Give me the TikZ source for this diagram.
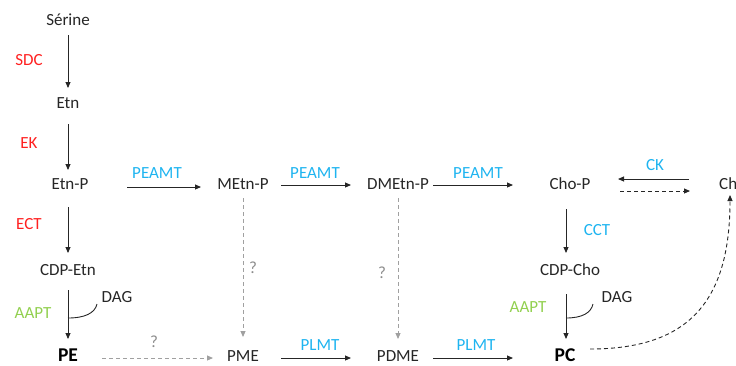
\documentclass[tikz,border=0pt]{standalone}
\usepackage{fontspec}
\setmainfont{Carlito}
\usetikzlibrary{arrows.meta}
\definecolor{enzred}{HTML}{FF2020}
\definecolor{enzblue}{HTML}{1EB4F0}
\definecolor{enzgreen}{HTML}{92D050}
\definecolor{txt}{HTML}{262626}
\definecolor{qgray}{HTML}{8C8C8C}
\definecolor{dgray}{HTML}{A0A0A0}
\tikzset{
  mol/.style={text=txt, inner sep=1pt, font=\fontsize{17}{20}\selectfont},
  bmol/.style={mol, inner sep=0pt, font=\fontsize{19.5}{22}\selectfont\bfseries, text=black},
  enz/.style={inner sep=1pt, font=\fontsize{17}{20}\selectfont},
  red/.style={enz, text=enzred},
  blue/.style={enz, text=enzblue},
  green/.style={enz, text=enzgreen},
  qm/.style={enz, text=qgray},
  arr/.style={draw=txt, line width=0.9pt, -{Triangle[length=6pt,width=5pt]}},
  darr/.style={arr, dashed, dash pattern=on 4pt off 3pt},
  gdarr/.style={draw=dgray, line width=0.9pt, dash pattern=on 4pt off 3pt, -{Triangle[length=6pt,width=5pt,fill=dgray]}},
  dagline/.style={draw=txt, line width=0.9pt},
}
\begin{document}
\begin{tikzpicture}[x=1pt,y=-1pt]
\useasboundingbox (0,0) rectangle (736,365);
% molecules
\node[mol] (ser) at (68,20) {Sérine};
\node[mol] (etn) at (68,103) {Etn};
\node[mol] (etnp) at (70,184) {Etn-P};
\node[mol] (cdpetn) at (68,270) {CDP-Etn};
\node[mol] (dag1) at (117,297) {DAG};
\node[bmol] (pe) at (68,355.5) {PE};
\node[mol] (metnp) at (243,184) {MEtn-P};
\node[mol] (dmetnp) at (398,184) {DMEtn-P};
\node[mol] (chop) at (570,184) {Cho-P};
\node[mol, anchor=west] (ch) at (718,184) {Ch};
\node[mol] (cdpcho) at (570,270) {CDP-Cho};
\node[mol] (dag2) at (617,297) {DAG};
\node[bmol] (pc) at (565,355.5) {PC};
\node[mol] (pme) at (243,356) {PME};
\node[mol] (pdme) at (398,356) {PDME};
% enzymes
\node[red] (sdc) at (29,60) {SDC};
\node[red] (ek) at (29,143) {EK};
\node[red] (ect) at (29,224) {ECT};
\node[green] (aapt1) at (33,313) {AAPT};
\node[blue] (peamt1) at (157,173) {PEAMT};
\node[blue] (peamt2) at (315,173) {PEAMT};
\node[blue] (peamt3) at (478,173) {PEAMT};
\node[blue] (ck) at (655,165) {CK};
\node[blue] (cct) at (597,230) {CCT};
\node[green] (aapt2) at (528,307) {AAPT};
\node[blue] (plmt1) at (320,345) {PLMT};
\node[blue] (plmt2) at (476,345) {PLMT};
\node[qm] (q1) at (253,268) {?};
\node[qm] (q2) at (382,273) {?};
\node[qm] (q3) at (154,342) {?};
% coordinates for connector ends
\coordinate (a1s) at (68,35);  \coordinate (a1e) at (68,88);
\coordinate (a2s) at (68,124); \coordinate (a2e) at (68,170);
\coordinate (a3s) at (68,207); \coordinate (a3e) at (68,253);
\coordinate (a4s) at (68,290); \coordinate (a4e) at (68,339);
\coordinate (d1s) at (68,318); \coordinate (d1e) at (97,304);
\coordinate (h1s) at (127,187); \coordinate (h1e) at (201,187);
\coordinate (h2s) at (281,185); \coordinate (h2e) at (351,185);
\coordinate (h3s) at (433,185); \coordinate (h3e) at (513,185);
\coordinate (cks) at (689,179); \coordinate (cke) at (618,179);
\coordinate (ckds) at (620,191); \coordinate (ckde) at (690,191);
\coordinate (v1s) at (566,209); \coordinate (v1e) at (566,253);
\coordinate (v2s) at (566,294); \coordinate (v2e) at (566,339);
\coordinate (d2s) at (566,318); \coordinate (d2e) at (593,304);
\coordinate (pcs) at (590,349); \coordinate (che) at (730,195);
\coordinate (g1s) at (243,198); \coordinate (g1e) at (243,337);
\coordinate (g2s) at (398,198); \coordinate (g2e) at (398,339);
\coordinate (g3s) at (102,358); \coordinate (g3e) at (213,358);
\coordinate (b1s) at (281,358); \coordinate (b1e) at (351,358);
\coordinate (b2s) at (433,358); \coordinate (b2e) at (513,358);
% connectors
\draw[arr] (a1s) -- (a1e);
\draw[arr] (a2s) -- (a2e);
\draw[arr] (a3s) -- (a3e);
\draw[arr] (a4s) -- (a4e);
\draw[dagline] (d1s) .. controls (85,318) and (95,313) .. (d1e);
\draw[arr] (h1s) -- (h1e);
\draw[arr] (h2s) -- (h2e);
\draw[arr] (h3s) -- (h3e);
\draw[arr] (cks) -- (cke);
\draw[darr] (ckds) -- (ckde);
\draw[arr] (v1s) -- (v1e);
\draw[arr] (v2s) -- (v2e);
\draw[dagline] (d2s) .. controls (582,318) and (591,313) .. (d2e);
\draw[darr] (pcs) .. controls (690,349) and (730,300) .. (che);
\draw[gdarr] (g1s) -- (g1e);
\draw[gdarr] (g2s) -- (g2e);
\draw[gdarr] (g3s) -- (g3e);
\draw[arr] (b1s) -- (b1e);
\draw[arr] (b2s) -- (b2e);
\end{tikzpicture}
\end{document}
